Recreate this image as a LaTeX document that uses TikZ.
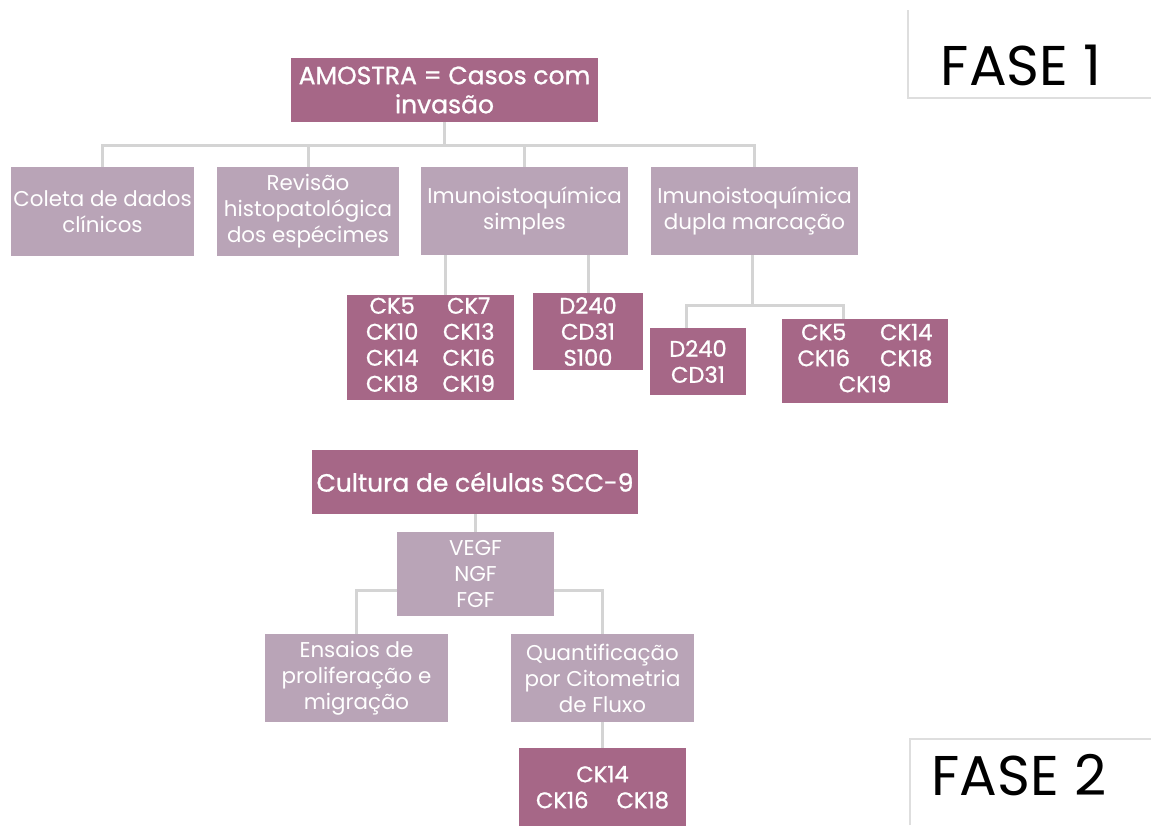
\documentclass[tikz,border=0pt]{standalone}
\usepackage{fontspec}
\setmainfont{Poppins}
\newfontfamily\medfont{Poppins}[FakeBold=1]
\definecolor{mauvedark}{HTML}{A66787}
\definecolor{mauvelight}{HTML}{B9A4B7}
\definecolor{linegray}{HTML}{D4D4D4}
\definecolor{framegray}{HTML}{DEDEDE}
\tikzset{
	boxsize/.style 2 args={minimum width=#1*0.5pt, minimum height=#2*0.5pt},
	darkbox/.style={fill=mauvedark, text=white, inner sep=0pt, align=center, font=\medfont\fontsize{11.3}{13}\selectfont},
	lightbox/.style={fill=mauvelight, text=white, inner sep=0pt, align=center, font=\fontsize{10.7}{13}\selectfont},
	link/.style={draw=linegray, line width=1.5pt},
	faseframe/.style={draw=framegray, line width=1pt},
	fase/.style={inner sep=0pt, anchor=base, font=\fontsize{28}{30}\selectfont}
}
\begin{document}
\begin{tikzpicture}[x=0.5pt, y=-0.5pt]
	\useasboundingbox (0,0) rectangle (1151,825);
	\clip (0,0) rectangle (1151,825);

	% fase 1
	\node[darkbox, boxsize={307}{64}, font=\medfont\fontsize{12.5}{14.5}\selectfont] (amostra) at (444.5,90) {AMOSTRA = Casos com\\invasão};
	\node[lightbox, boxsize={183}{89}] (coleta) at (102.5,211.5) {Coleta de dados\\clínicos};
	\node[lightbox, boxsize={182}{89}] (revisao) at (308,211.5) {Revisão\\histopatológica\\dos espécimes};
	\node[lightbox, boxsize={207}{88}] (imsimples) at (524.5,211) {Imunoistoquímica\\simples};
	\node[lightbox, boxsize={207}{88}] (imdupla) at (754.5,211) {Imunoistoquímica\\dupla marcação};

	\node[darkbox, boxsize={167}{105}] (ckA) at (430.5,347.5) {\begin{tabular}{@{}c@{\hspace{12pt}}c@{}}CK5&CK7\\CK10&CK13\\CK14&CK16\\CK18&CK19\end{tabular}};
	\node[darkbox, boxsize={110}{77}] (dcs) at (588,331.5) {D240\\CD31\\S100};
	\node[darkbox, boxsize={96}{67}] (dc) at (698,361.5) {D240\\CD31};
	\node[darkbox, boxsize={166}{84}] (ckB) at (865,361) {\begin{tabular}{@{}c@{\hspace{15pt}}c@{}}CK5&CK14\\CK16&CK18\\\multicolumn{2}{c}{CK19}\end{tabular}};

	\coordinate (bus) at (444.5,145);
	\draw[link] (amostra.south) -- (bus);
	\foreach \c in {coleta,revisao,imsimples,imdupla}
		\draw[link] (bus) -| (\c.north);

	\coordinate (tA) at (445,0);
	\draw[link] (imsimples.south -| tA) -- (ckA.north -| tA);
	\draw[link] (imsimples.south -| dcs.north) -- (dcs.north);

	\coordinate (busB) at (752,305);
	\coordinate (tB) at (686,0);
	\coordinate (tC) at (843,0);
	\draw[link] (imdupla.south -| busB) -- (busB);
	\draw[link] (busB) -| (dc.north -| tB);
	\draw[link] (busB) -| (ckB.north -| tC);

	% fase 2
	\node[darkbox, boxsize={326}{64}, font=\medfont\fontsize{12.5}{15}\selectfont] (cultura) at (475,482) {Cultura de células SCC-9};
	\node[lightbox, boxsize={157}{84}] (fatores) at (475.5,574) {VEGF\\NGF\\FGF};
	\node[lightbox, boxsize={183}{88}] (ensaios) at (356.5,678) {Ensaios de\\proliferação e\\migração};
	\node[lightbox, boxsize={183}{88}] (quant) at (602.5,678) {Quantificação\\por Citometria\\de Fluxo};
	\node[darkbox, boxsize={167}{84}] (ckC) at (602.5,790) {\begin{tabular}{@{}c@{\hspace{14pt}}c@{}}\multicolumn{2}{c}{CK14}\\CK16&CK18\end{tabular}};

	\coordinate (yF) at (0,590);
	\draw[link] (cultura.south) -- (cultura.south |- fatores.north);
	\draw[link] (fatores.west |- yF) -| (ensaios.north);
	\draw[link] (fatores.east |- yF) -| (quant.north);
	\draw[link] (quant.south) -- (ckC.north);

	% fases
	\draw[faseframe] (908,10) -- (908,98) -- (1151,98);
	\draw[faseframe] (910,825) -- (910,739) -- (1151,739);
	\node[fase] (fase1) at (1021,85) {FASE 1};
	\node[fase] (fase2) at (1019,795) {FASE 2};
\end{tikzpicture}
\end{document}
